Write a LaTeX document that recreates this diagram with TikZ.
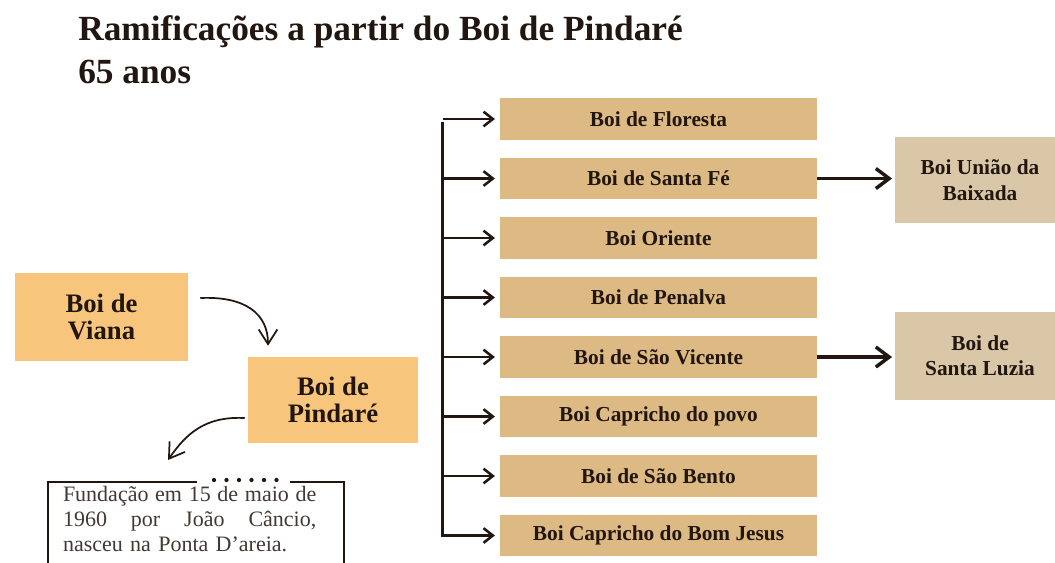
\documentclass[tikz,border=0pt]{standalone}
\usepackage{fontspec}
\setmainfont{Liberation Serif}
\usetikzlibrary{positioning,arrows.meta}

\definecolor{pessego}{RGB}{248,197,124}
\definecolor{couro}{RGB}{221,185,131}
\definecolor{areia}{RGB}{217,199,167}
\definecolor{tinta}{RGB}{33,22,16}

\tikzset{
  titulo/.style={anchor=base west, inner sep=0pt, text=tinta, font=\bfseries\fontsize{26.5}{30}\selectfont},
  matriz/.style={fill=pessego, text=tinta, align=center, inner sep=0pt,
    minimum width=129pt, minimum height=65pt, font=\bfseries\fontsize{20}{20}\selectfont},
  ramo/.style={fill=couro, text=tinta, inner sep=0pt, minimum width=238pt,
    minimum height=31pt, font=\bfseries\fontsize{16}{19}\selectfont},
  neto/.style={fill=areia, text=tinta, align=center, inner sep=0pt, minimum width=127.5pt,
    minimum height=65pt, font=\bfseries\fontsize{16}{19}\selectfont},
  nota/.style={draw=tinta, line width=1.5pt, anchor=north west, align=left, text width=199.5pt,
    inner xsep=11.25pt, inner ysep=3pt, text depth=90pt, text=tinta!85,
    font=\fontsize{16.5}{18.75}\selectfont},
  curva/.style={draw=tinta, line width=1.3pt, -{Straight Barb[length=11pt,width=14pt]}},
  seta/.style={draw=tinta, line width=1.9pt, -{Straight Barb[length=7pt,width=11pt]}},
  setagrossa/.style={draw=tinta, line width=2.6pt, -{Straight Barb[length=10pt,width=15pt]}},
}

\begin{document}
\begin{tikzpicture}[x=0.75pt,y=-0.75pt]
\useasboundingbox (0,0) rectangle (1055,562);
\clip (0,0) rectangle (1055,562);
\fill[white] (0,0) rectangle (1055,562);

\node[titulo] (titulo) at (78,40) {Ramificações a partir do Boi de Pindaré};
\node[titulo] (anos) at ([yshift=-32.25pt]titulo.base west) {65 anos};

\node[matriz, minimum width=129.75pt, minimum height=66pt] (viana) at (101.5,317) {Boi de\\Viana};
\node[matriz, minimum width=127.5pt, minimum height=64.5pt] (pindare) at (333,400) {Boi de\\Pindaré};

\node[nota] (fundacao) at (47,481) {\makebox[190pt]{Fundação\hfill em\hfill 15\hfill de\hfill maio\hfill de}\\
  \makebox[190pt]{1960\hfill por\hfill João\hfill Câncio,}\\
  nasceu na Ponta D'areia.};
\fill[white] (197,476) rectangle (290,486);
\foreach \k in {0,...,5}
  \fill[tinta] (214+12.5*\k,480) circle (1.6pt);

\draw[curva] ([shift={(12,-19)}]viana.east) .. controls +(45,-2) and +(0,-32) .. ([shift={(-65,-11)}]pindare.north);
\draw[curva] ([shift={(-3,18)}]pindare.west) .. controls +(-40,-2) and +(18,-26) .. ([shift={(-28,-21)}]fundacao.north);

% filhos do Pindare
\foreach \nome [count=\i] in {Boi de Floresta, Boi de Santa Fé, Boi Oriente, Boi de Penalva,
    Boi de São Vicente, Boi Capricho do povo, Boi de São Bento, Boi Capricho do Bom Jesus}
  \node[ramo] (r\i) at (658.5,{119+59.5*(\i-1)}) {\nome};

\coordinate (tronco) at ([xshift=-42.75pt]r1.west);
\draw[tinta, line width=2.2pt, line cap=rect] ([yshift=-3pt]tronco) -- (tronco |- r8.west);
\foreach \i in {1,...,8}
  \draw[seta] (tronco |- r\i.west) -- ([xshift=-3.5pt]r\i.west);

\node[neto, minimum height=64.5pt] (uniao) at (980,180) {Boi União da\\Baixada};
\node[neto, minimum height=66pt] (luzia) at (980,356) {Boi de\\Santa Luzia};

\draw[setagrossa, shorten >=2pt] (r2.east) -- (r2.east -| uniao.west);
\draw[setagrossa, shorten >=2pt] (r5.east) -- (r5.east -| luzia.west);
\end{tikzpicture}
\end{document}
